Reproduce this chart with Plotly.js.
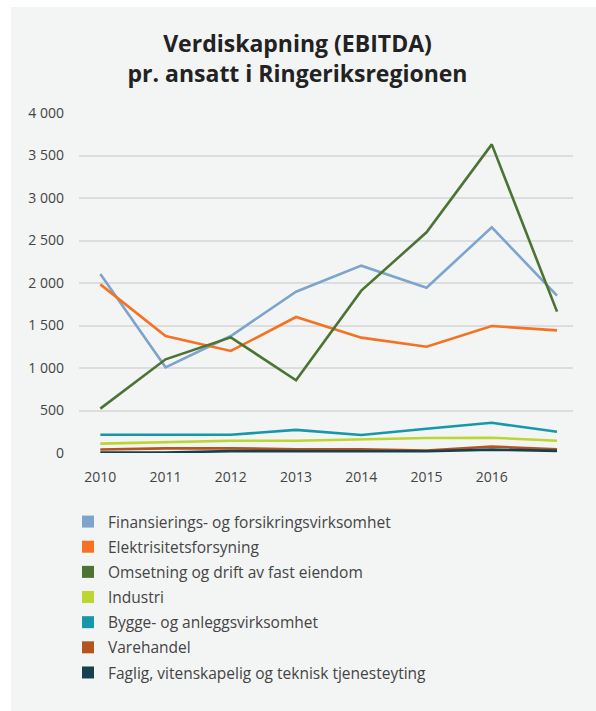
<!DOCTYPE html>
<html>
<head>
<meta charset="utf-8">
<script src="https://cdn.plot.ly/plotly-3.0.1.min.js"></script>
<style>
  html, body { margin: 0; padding: 0; background: #ffffff; width: 596px; height: 711px; overflow: hidden; }
  #chart { position: absolute; left: 11px; top: 7px; width: 585px; height: 704px; }
</style>
</head>
<body>
<div id="chart"></div>
<script>
const years = [2010, 2011, 2012, 2013, 2014, 2015, 2016, 2017];
const tickYears = [2010, 2011, 2012, 2013, 2014, 2015, 2016];
const tickLabels = ["2010", "2011", "2012", "2013", "2014", "2015", "2016"];

const seriesNames = [
  "Finansierings- og forsikringsvirksomhet",
  "Elektrisitetsforsyning",
  "Omsetning og drift av fast eiendom",
  "Industri",
  "Bygge- og anleggsvirksomhet",
  "Varehandel",
  "Faglig, vitenskapelig og teknisk tjenesteyting"
];

const finansiering = [2106, 1008, 1376, 1898, 2204, 1945, 2655, 1851];
const elektrisitet = [1984, 1376, 1200, 1600, 1357, 1251, 1494, 1443];
const omsetning    = [522, 1102, 1361, 855, 1910, 2596, 3631, 1663];
const industri     = [110, 129, 145, 145, 161, 176, 180, 145];
const bygge        = [214, 214, 214, 272, 212, 286, 355, 250];
const varehandel   = [42, 55, 55, 45, 45, 30, 76, 45];
const faglig       = [6, 6, 22, 22, 22, 20, 40, 25];

const seriesValues = [finansiering, elektrisitet, omsetning, industri, bygge, varehandel, faglig];
const colors = ["#7DA4CC", "#F47221", "#4B7434", "#BCD531", "#1698AA", "#B4541E", "#15404F"];

const traces = [];
seriesValues.forEach((vals, i) => {
  traces.push({
    type: "scatter", mode: "lines", x: years, y: vals,
    name: seriesNames[i], showlegend: false,
    line: { color: colors[i], width: 2.6 },
    hoverinfo: "x+y+name"
  });
});
seriesValues.forEach((vals, i) => {
  traces.push({
    type: "scatter", mode: "markers", x: [null], y: [null],
    name: seriesNames[i], legendgroup: "g" + i, showlegend: true,
    marker: { symbol: "square", size: 12, color: colors[i] }
  });
});

const W = 585, H = 704;
const layout = {
  width: W, height: H,
  paper_bgcolor: "#F3F4F4",
  plot_bgcolor: "#F3F4F4",
  separators: ", ",
  margin: { l: 68, r: 23, t: 106, b: 258, autoexpand: false },
  font: { family: "Open Sans, sans-serif", color: "#444444", size: 14 },
  title: {
    text: "<b>Verdiskapning (EBITDA)<br>pr. ansatt i Ringeriksregionen</b>",
    font: { family: "Open Sans, sans-serif", size: 23, color: "#222222" },
    xref: "container", x: (297.5 - 11) / W, xanchor: "center",
    yref: "container", y: 1 - (52 - 7) / H, yanchor: "middle"
  },
  xaxis: {
    type: "linear",
    range: [2010 - 0.327, 2017 + 0.245],
    tickvals: tickYears, ticktext: tickLabels,
    tickangle: 0,
    showgrid: false, zeroline: false, showline: false,
    ticks: "", ticklabelstandoff: 14,
    tickfont: { size: 14, color: "#444444" },
    fixedrange: true
  },
  yaxis: {
    range: [0, 4000],
    tickvals: [0, 500, 1000, 1500, 2000, 2500, 3000, 3500, 4000],
    separatethousands: true,
    showgrid: true, gridcolor: "#DCDDDF", gridwidth: 2,
    zeroline: false, showline: false,
    ticks: "", ticklabelstandoff: 14,
    tickfont: { size: 14, color: "#444444" },
    fixedrange: true
  },
  legend: {
    xref: "container", yref: "container",
    x: 57 / W, xanchor: "left",
    y: 1 - (505 - 7) / H, yanchor: "top",
    bgcolor: "rgba(0,0,0,0)",
    font: { size: 15.5, color: "#444444" },
    tracegroupgap: 2,
    traceorder: "grouped"
  },
  showlegend: true
};

Plotly.newPlot("chart", traces, layout, { displayModeBar: false, staticPlot: true });
</script>
</body>
</html>
